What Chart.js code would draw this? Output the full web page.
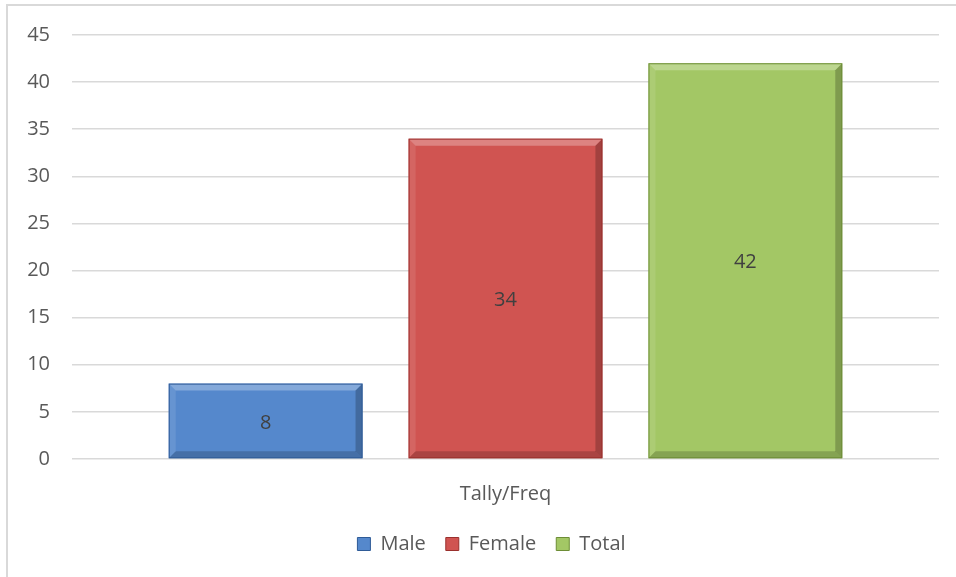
<!DOCTYPE html>
<html>
<head>
<meta charset="utf-8">
<script src="https://cdn.jsdelivr.net/npm/chart.js@4"></script>
<style>
    body { margin: 0; background: #fff; }
    #wrap { position: relative; width: 956px; height: 577px; overflow: hidden; }
    #frame { position: absolute; left: 6px; top: 4px; width: 970px; height: 590px; border: 2px solid #d9d9d9; }
    canvas { position: absolute; left: 0; top: 0; }
</style>
</head>
<body>
<div id="wrap">
    <div id="frame"></div>
    <canvas id="freqChart" width="956" height="577"></canvas>
</div>
<script>
const categories = ["Tally/Freq"];
const seriesNames = ["Male", "Female", "Total"];
const maleValues = [8];
const femaleValues = [34];
const totalValues = [42];
const yTicks = [0, 5, 10, 15, 20, 25, 30, 35, 40, 45];

const FONT = "'Open Sans', sans-serif";

// top, middle, bottom, edge
const palette = {
    Male: ["#70a3e0", "#5588cc", "#3c70b9", "#2f5b97"],
    Female: ["#d87470", "#d05451", "#be403c", "#9a302d"],
    Total: ["#b4d37c", "#a3c765", "#8cb44c", "#6d8d36"]
};

function barGradient(ctx, name) {
    const area = ctx.chart.chartArea;
    const el = ctx.element;
    if (!area || !el) return palette[name][1];
    const top = Math.min(el.y, el.base), bottom = Math.max(el.y, el.base);
    if (!isFinite(top) || bottom - top < 1) return palette[name][1];
    const g = ctx.chart.ctx.createLinearGradient(0, top, 0, bottom);
    g.addColorStop(0, palette[name][0]);
    g.addColorStop(0.5, palette[name][1]);
    g.addColorStop(1, palette[name][2]);
    return g;
}

// bevel edges on each bar, like the office chart
const bevelPlugin = {
    id: "bevel",
    afterDatasetsDraw(chart) {
        const c = chart.ctx;
        const b = 7;
        chart.data.datasets.forEach((ds, i) => {
            chart.getDatasetMeta(i).data.forEach(bar => {
                const l = bar.x - bar.width / 2, r = bar.x + bar.width / 2;
                const t = bar.y, bt = bar.base;
                c.save();
                // top
                c.fillStyle = "rgba(255,255,255,0.28)";
                c.beginPath(); c.moveTo(l, t); c.lineTo(r, t); c.lineTo(r - b, t + b); c.lineTo(l + b, t + b); c.fill();
                // left
                c.fillStyle = "rgba(255,255,255,0.10)";
                c.beginPath(); c.moveTo(l, t); c.lineTo(l + b, t + b); c.lineTo(l + b, bt - b); c.lineTo(l, bt); c.fill();
                // right
                c.fillStyle = "rgba(0,0,0,0.22)";
                c.beginPath(); c.moveTo(r, t); c.lineTo(r - b, t + b); c.lineTo(r - b, bt - b); c.lineTo(r, bt); c.fill();
                // bottom
                c.fillStyle = "rgba(0,0,0,0.18)";
                c.beginPath(); c.moveTo(l, bt); c.lineTo(l + b, bt - b); c.lineTo(r - b, bt - b); c.lineTo(r, bt); c.fill();
                c.strokeStyle = palette[ds.label][3];
                c.lineWidth = 1;
                c.strokeRect(l + 0.5, t + 0.5, bar.width - 1, bt - t - 1);
                c.restore();
            });
        });
    }
};

// value in the middle of each bar
const centerLabels = {
    id: "centerLabels",
    afterDatasetsDraw(chart) {
        const c = chart.ctx;
        c.save();
        c.font = "20px " + FONT;
        c.fillStyle = "#404040";
        c.textAlign = "center";
        c.textBaseline = "middle";
        chart.data.datasets.forEach((ds, i) => {
            chart.getDatasetMeta(i).data.forEach((bar, j) => {
                c.fillText(ds.data[j], bar.x, (bar.y + bar.base) / 2 + 2);
            });
        });
        c.restore();
    }
};

// legend sits a little right of the canvas centre in the original
const legendShift = {
    id: "legendShift",
    afterLayout(chart) {
        chart.legend.left += 22;
        chart.legend.right += 22;
    }
};

const ctx = document.getElementById("freqChart");

new Chart(ctx, {
    type: "bar",
    data: {
        labels: categories,
        datasets: [
            { label: seriesNames[0], data: maleValues, backgroundColor: c => barGradient(c, "Male") },
            { label: seriesNames[1], data: femaleValues, backgroundColor: c => barGradient(c, "Female") },
            { label: seriesNames[2], data: totalValues, backgroundColor: c => barGradient(c, "Total") }
        ]
    },
    options: {
        responsive: false,
        animation: false,
        categoryPercentage: 0.83,
        barPercentage: 0.808,
        layout: { padding: { top: 35, right: 17, bottom: 13, left: 0 } },
        plugins: {
            legend: {
                position: "bottom",
                labels: {
                    font: { family: FONT, size: 20 },
                    color: "#595959",
                    boxWidth: 13,
                    boxHeight: 13,
                    padding: 20,
                    generateLabels(chart) {
                        return chart.data.datasets.map((ds, i) => ({
                            text: ds.label,
                            fillStyle: palette[ds.label][1],
                            strokeStyle: palette[ds.label][3],
                            lineWidth: 1,
                            fontColor: "#595959",
                            datasetIndex: i
                        }));
                    }
                }
            },
            tooltip: { enabled: false }
        },
        scales: {
            x: {
                grid: { display: false },
                border: { display: false },
                afterFit: scale => { scale.height = 55; },
                ticks: {
                    font: { family: FONT, size: 20 },
                    color: "#595959",
                    padding: 15
                }
            },
            y: {
                min: 0,
                max: 45,
                afterBuildTicks: scale => { scale.ticks = yTicks.map(v => ({ value: v })); },
                afterFit: scale => { scale.width = 72; },
                grid: { color: "#d9d9d9", lineWidth: 1.5, drawTicks: false },
                border: { display: false },
                ticks: {
                    font: { family: FONT, size: 20 },
                    color: "#595959",
                    padding: 22
                }
            }
        }
    },
    plugins: [bevelPlugin, centerLabels, legendShift]
});
</script>
</body>
</html>
